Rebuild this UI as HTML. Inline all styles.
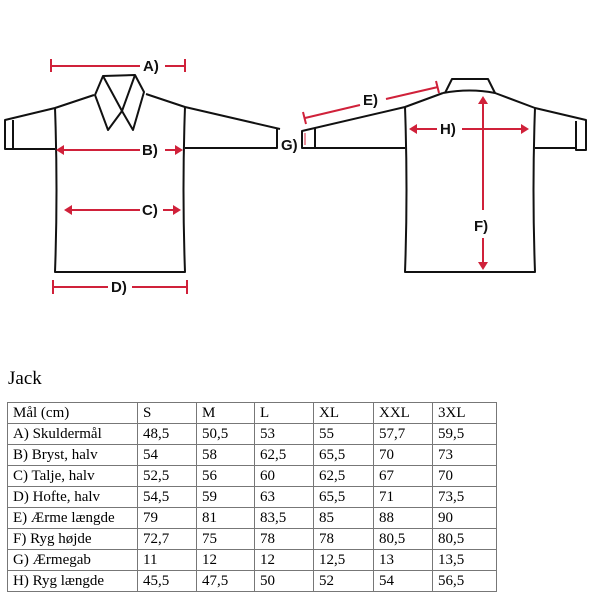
<!DOCTYPE html>
<html><head><style>
body{margin:0;width:600px;height:600px;background:#fff;position:relative;overflow:hidden;font-family:"Liberation Serif",serif}
svg{position:absolute;left:0;top:0}
.jack{position:absolute;left:8px;top:368px;font-size:19px}
table{position:absolute;left:7px;top:402px;border-collapse:collapse;font-size:15px;table-layout:fixed;width:489px}
td{border:1px solid #777;height:20px;padding:0 0 0 5px;line-height:20px;white-space:nowrap;overflow:hidden}
</style></head><body>
<svg width="600" height="360" viewBox="0 0 600 360">
<g fill="none" stroke="#111" stroke-width="2" stroke-linejoin="round">
<path d="M94,95 L55,108 L5,120 L5,149 L55,149"/>
<path d="M13,120 L13,149"/>
<path d="M146,94 L185,107 L280,129"/>
<path d="M185,148 L277,148 L277,128"/>
<path d="M55,108 Q58,190 55,272 L185,272 Q182,190 185,107"/>
<path d="M95,95 L103,76 L135,75 L144,92 L133,130 L122,111 L108,130 Z"/>
<path d="M103,76 L122,111 M135,75 L122,111"/>
<path d="M443,93 L405,107 L302,131 L302,148 L405,148"/>
<path d="M315,128 L315,148"/>
<path d="M443,93 Q470,88 495,93 L535,108 L586,120 L586,150 L576,150 L576,121 M576,148 L535,148"/>
<path d="M405,107 Q408,190 405,272 L535,272 Q532,190 535,108"/>
<path d="M445,93 L452,79 L488,79 L495,93"/>
</g>
<g stroke="#d0213a" stroke-width="2" fill="#d0213a">
<line x1="51" y1="66" x2="140" y2="66"/><line x1="165" y1="66" x2="185" y2="66"/>
<line x1="51" y1="59" x2="51" y2="72"/><line x1="185" y1="59" x2="185" y2="72"/>
<line x1="60" y1="150" x2="140" y2="150"/><line x1="165" y1="150" x2="179" y2="150"/>
<line x1="68" y1="210" x2="140" y2="210"/><line x1="163" y1="210" x2="177" y2="210"/>
<line x1="53" y1="287" x2="108" y2="287"/><line x1="132" y1="287" x2="187" y2="287"/>
<line x1="53" y1="280" x2="53" y2="294"/><line x1="187" y1="280" x2="187" y2="294"/>
<line x1="305" y1="118" x2="360" y2="105"/><line x1="386" y1="99" x2="438" y2="87"/>
<line x1="303" y1="112" x2="306" y2="124"/><line x1="436" y1="81" x2="439" y2="93"/>
<line x1="413" y1="129" x2="437" y2="129"/><line x1="462" y1="129" x2="525" y2="129"/>
<line x1="483" y1="100" x2="483" y2="210"/><line x1="483" y1="238" x2="483" y2="266"/>
<line x1="305" y1="133" x2="305" y2="145" stroke-width="1"/>
</g>
<g fill="#d0213a">
<path d="M56,150 L64,145 L64,155Z"/><path d="M183,150 L175,145 L175,155Z"/>
<path d="M64,210 L72,205 L72,215Z"/><path d="M181,210 L173,205 L173,215Z"/>
<path d="M409,129 L417,124 L417,134Z"/><path d="M529,129 L521,124 L521,134Z"/>
<path d="M483,96 L478,104 L488,104Z"/><path d="M483,270 L478,262 L488,262Z"/>
</g>
<g font-family="Liberation Sans,sans-serif" font-weight="bold" font-size="15" fill="#111">
<text x="143" y="71">A)</text>
<text x="142" y="155">B)</text>
<text x="142" y="215">C)</text>
<text x="111" y="292">D)</text>
<text x="363" y="105">E)</text>
<text x="474" y="231">F)</text>
<text x="281" y="150">G)</text>
<text x="440" y="134">H)</text>
</g>
</svg>
<div class="jack">Jack</div>
<table>
<colgroup><col style="width:130px"><col style="width:59px"><col style="width:58px"><col style="width:59px"><col style="width:60px"><col style="width:59px"><col style="width:64px"></colgroup>
<tr><td>Mål (cm)</td><td>S</td><td>M</td><td>L</td><td>XL</td><td>XXL</td><td>3XL</td></tr>
<tr><td>A) Skuldermål</td><td>48,5</td><td>50,5</td><td>53</td><td>55</td><td>57,7</td><td>59,5</td></tr>
<tr><td>B) Bryst, halv</td><td>54</td><td>58</td><td>62,5</td><td>65,5</td><td>70</td><td>73</td></tr>
<tr><td>C) Talje, halv</td><td>52,5</td><td>56</td><td>60</td><td>62,5</td><td>67</td><td>70</td></tr>
<tr><td>D) Hofte, halv</td><td>54,5</td><td>59</td><td>63</td><td>65,5</td><td>71</td><td>73,5</td></tr>
<tr><td>E) Ærme længde</td><td>79</td><td>81</td><td>83,5</td><td>85</td><td>88</td><td>90</td></tr>
<tr><td>F) Ryg højde</td><td>72,7</td><td>75</td><td>78</td><td>78</td><td>80,5</td><td>80,5</td></tr>
<tr><td>G) Ærmegab</td><td>11</td><td>12</td><td>12</td><td>12,5</td><td>13</td><td>13,5</td></tr>
<tr><td>H) Ryg længde</td><td>45,5</td><td>47,5</td><td>50</td><td>52</td><td>54</td><td>56,5</td></tr>
</table>
</body></html>
